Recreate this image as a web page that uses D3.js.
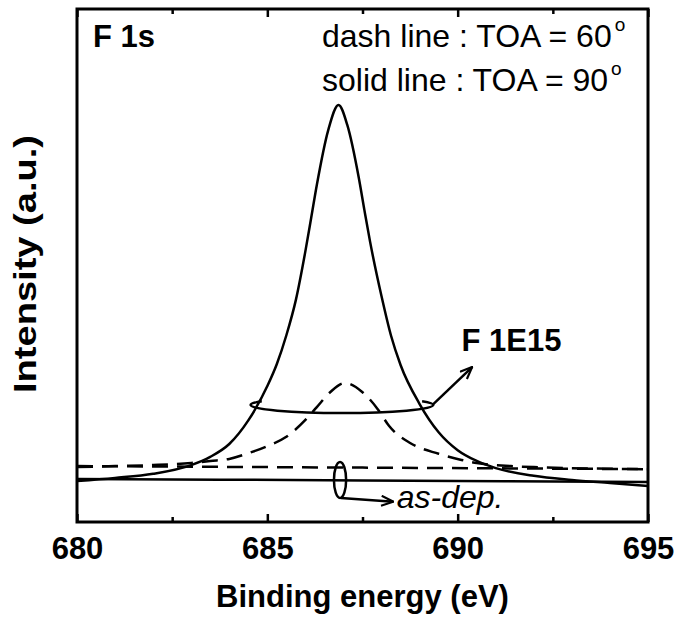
<!DOCTYPE html>
<html>
<head>
<meta charset="utf-8">
<script src="https://cdn.jsdelivr.net/npm/d3@7"></script>
<style>
  body { margin: 0; background: #fff; }
  svg { display: block; }
  text { font-family: "Liberation Sans", Arial, sans-serif; fill: #000; }
</style>
</head>
<body>
<svg id="chart" width="677" height="621"></svg>
<script>
// data (intensity in a.u.)
const energyF90 = [680, 681, 682, 683, 683.5, 684, 684.5, 685, 685.25, 685.5, 685.75, 686, 686.15, 686.3, 686.6, 686.87,
  687.1, 687.4, 687.55, 687.7, 688, 688.25, 688.5, 689, 689.5, 690, 690.5, 691, 692, 693, 694, 695];
const intensityF90 = [8.0, 8.6, 9.4, 11.1, 12.7, 15.2, 19.8, 26.5, 30.8, 36.4, 43.3, 52.8, 59.2, 65.7, 76.4, 81.3,
  77.4, 67.2, 60.8, 54.6, 44.0, 36.3, 30.6, 23.0, 17.5, 14.0, 11.9, 10.5, 9.0, 8.2, 7.6, 7.0];

const energyF60 = [680, 681, 682, 683, 683.5, 684, 684.5, 685, 685.5, 686, 686.3, 686.65, 687.04, 687.5, 687.9,
  688.2, 688.75, 689.5, 690.1, 690.5, 691.4, 692, 693, 695];
const intensityF60 = [10.7, 10.9, 11.1, 11.5, 11.9, 12.3, 13.4, 14.8, 16.6, 19.9, 22.4, 25.3, 27.1, 25.3, 22.0,
  18.7, 15.4, 13.3, 12.1, 11.5, 10.9, 10.7, 10.5, 10.3];

const energyDep = [680, 687.5, 695];
const intensityDep60 = [10.9, 10.6, 10.3];
const intensityDep90 = [8.4, 8.1, 7.8];

const majorTicks = [680, 685, 690, 695];
const minorTicks = [682.5, 687.5, 692.5];

const W = 677, H = 621;
const plot = { left: 77, right: 648, top: 9, bottom: 522 };
const svg = d3.select('#chart');

const x = d3.scaleLinear().domain([680, 695]).range([plot.left, plot.right]);
const y = d3.scaleLinear().domain([0, 100]).range([plot.bottom, plot.top]);

svg.append('defs').append('clipPath').attr('id', 'clip')
  .append('rect')
  .attr('x', plot.left).attr('y', plot.top)
  .attr('width', plot.right - plot.left).attr('height', plot.bottom - plot.top);

const marker = svg.select('defs').append('marker')
  .attr('id', 'arrow')
  .attr('viewBox', '0 0 14 12')
  .attr('refX', 13).attr('refY', 6)
  .attr('markerWidth', 14).attr('markerHeight', 12)
  .attr('markerUnits', 'userSpaceOnUse')
  .attr('orient', 'auto');
marker.append('path')
  .attr('d', 'M1,1 L13,6 L1,11')
  .attr('fill', 'none').attr('stroke', '#000').attr('stroke-width', 2.2);

const line = d3.line()
  .x((d) => x(d[0]))
  .y((d) => y(d[1]))
  .curve(d3.curveMonotoneX);

const series = [
  { e: energyDep, v: intensityDep60, dash: '16,9' },
  { e: energyDep, v: intensityDep90, dash: null },
  { e: energyF60, v: intensityF60, dash: '16,9' },
  { e: energyF90, v: intensityF90, dash: null },
];

// curves
svg.append('g').attr('clip-path', 'url(#clip)')
  .selectAll('path')
  .data(series)
  .enter()
  .append('path')
  .attr('d', (s) => line(s.e.map((e, i) => [e, s.v[i]])))
  .attr('fill', 'none')
  .attr('stroke', '#000')
  .attr('stroke-width', 2.5)
  .attr('stroke-dasharray', (s) => s.dash);

// axes (inward ticks)
const styleAxis = (g) => {
  g.select('.domain').remove();
  g.selectAll('.tick line').attr('stroke', '#000').attr('stroke-width', 2.5);
  g.selectAll('.tick text')
    .attr('font-size', 31).attr('font-weight', 'bold')
    .attr('font-family', '"Liberation Sans", Arial, sans-serif');
};

svg.append('g').attr('transform', `translate(0,${plot.bottom})`)
  .call(d3.axisBottom(x).tickValues(majorTicks).tickSize(-8).tickPadding(15).tickFormat(d3.format('d')))
  .call(styleAxis);
svg.append('g').attr('transform', `translate(0,${plot.bottom})`)
  .call(d3.axisBottom(x).tickValues(minorTicks).tickSize(-5).tickFormat(''))
  .call(styleAxis);
svg.append('g').attr('transform', `translate(0,${plot.top})`)
  .call(d3.axisTop(x).tickValues(majorTicks).tickSize(-8).tickFormat(''))
  .call(styleAxis);
svg.append('g').attr('transform', `translate(0,${plot.top})`)
  .call(d3.axisTop(x).tickValues(minorTicks).tickSize(-5).tickFormat(''))
  .call(styleAxis);

// frame
svg.append('rect')
  .attr('x', plot.left).attr('y', plot.top)
  .attr('width', plot.right - plot.left).attr('height', plot.bottom - plot.top)
  .attr('fill', 'none').attr('stroke', '#000').attr('stroke-width', 3);

// ring around the F 1E15 curves (back arc hidden behind the peak)
const ring = { e: 686.96, v: 22.8, de: 2.4, dv: 1.56 };
const cx = x(ring.e), cy = y(ring.v);
const rx = x(ring.e + ring.de) - cx, ry = y(0) - y(ring.dv);
const a = 0.5;
const ringPath = [
  `M${cx - rx},${cy} A${rx},${ry} 0 0 0 ${cx + rx},${cy}`,
  `M${cx - rx},${cy} A${rx},${ry} 0 0 1 ${cx - rx * Math.cos(a)},${cy - ry * Math.sin(a)}`,
  `M${cx + rx * Math.cos(a)},${cy - ry * Math.sin(a)} A${rx},${ry} 0 0 1 ${cx + rx},${cy}`,
].join(' ');
svg.append('path').attr('d', ringPath)
  .attr('fill', 'none').attr('stroke', '#000').attr('stroke-width', 2.5);

svg.append('line')
  .attr('x1', cx + rx).attr('y1', cy - 1)
  .attr('x2', x(690.38)).attr('y2', y(30.2))
  .attr('stroke', '#000').attr('stroke-width', 2.5)
  .attr('marker-end', 'url(#arrow)');

// small ring around as-dep. baselines
const ring2 = { e: 686.91, v: 8.2, de: 0.16, dv: 3.5 };
svg.append('ellipse')
  .attr('cx', x(ring2.e)).attr('cy', y(ring2.v))
  .attr('rx', x(ring2.e + ring2.de) - x(ring2.e))
  .attr('ry', y(0) - y(ring2.dv))
  .attr('fill', 'none').attr('stroke', '#000').attr('stroke-width', 2.5);

svg.append('line')
  .attr('x1', x(ring2.e) + 1).attr('y1', y(ring2.v - ring2.dv))
  .attr('x2', x(688.31)).attr('y2', y(3.96))
  .attr('stroke', '#000').attr('stroke-width', 2.5)
  .attr('marker-end', 'url(#arrow)');

// labels
svg.append('text').attr('x', 93).attr('y', 47)
  .attr('font-size', 31).attr('font-weight', 'bold').text('F 1s');

const legend = [
  { label: 'dash line : TOA = 60', y: 47 },
  { label: 'solid line : TOA = 90', y: 91 },
];
legend.forEach((l) => {
  const t = svg.append('text').attr('x', 322).attr('y', l.y).attr('font-size', 32);
  t.append('tspan').text(l.label);
  t.append('tspan').attr('font-size', 19).attr('dy', -16).attr('dx', 3).text('o');
});

svg.append('text').attr('x', x(690.1)).attr('y', 351)
  .attr('font-size', 31).attr('font-weight', 'bold').text('F 1E15');

svg.append('text').attr('x', x(688.4)).attr('y', 508)
  .attr('font-size', 32).attr('font-style', 'italic').text('as-dep.');

svg.append('text')
  .attr('x', (plot.left + plot.right) / 2).attr('y', 607)
  .attr('text-anchor', 'middle')
  .attr('font-size', 31).attr('font-weight', 'bold')
  .text('Binding energy (eV)');

svg.append('text')
  .attr('transform', `translate(36,264) rotate(-90)`)
  .attr('text-anchor', 'middle')
  .attr('font-size', 32).attr('font-weight', 'bold')
  .attr('textLength', 258).attr('lengthAdjust', 'spacingAndGlyphs')
  .text('Intensity (a.u.)');
</script>
</body>
</html>
